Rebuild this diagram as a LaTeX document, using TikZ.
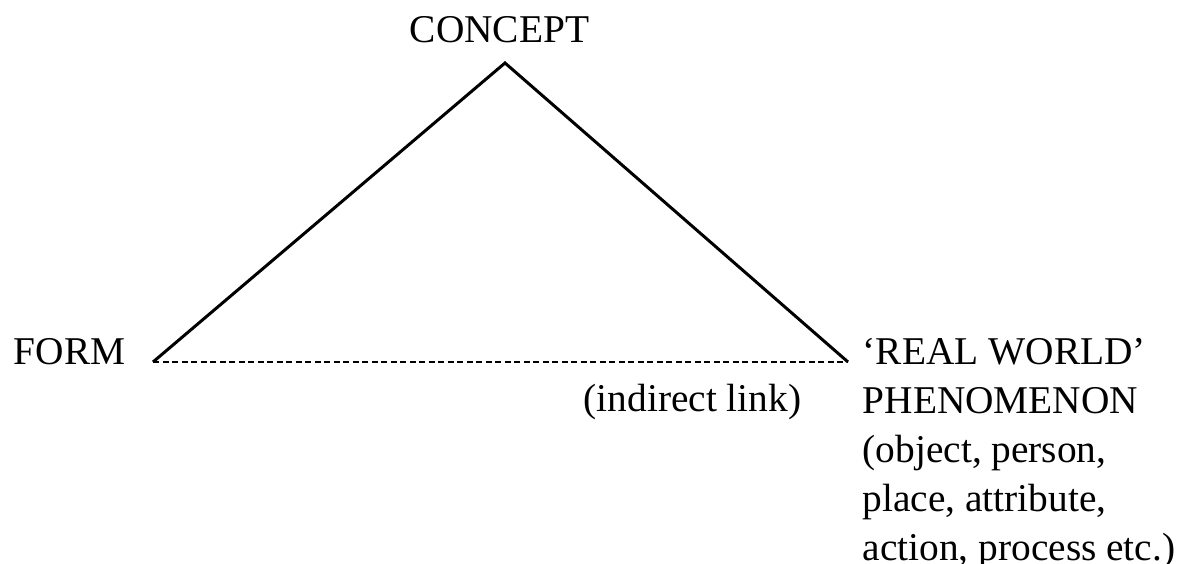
\documentclass[tikz,border=0pt]{standalone}
\usepackage{fontspec}
\setmainfont{Liberation Serif}
\usetikzlibrary{positioning}

\begin{document}
\begin{tikzpicture}[
    label/.style={
        inner sep=0pt,
        font=\fontsize{11.2}{13.9}\selectfont
    },
    side/.style={
        line width=0.85pt
    },
    indirect/.style={
        line width=0.6pt,
        dash pattern=on 0.06cm off 0.035cm
    }
]
\useasboundingbox (0,0) rectangle (11.81,5.64);

% Triangle corners
\coordinate (concept) at (5.05,5.01);
\coordinate (form) at (1.53,2.02);
\coordinate (phen) at (8.48,2.02);

% Labels
\node[label, anchor=base] (conceptlbl) at (4.995,5.21) {CONCEPT};
\node[label, anchor=base west] (formlbl) at (0.13,1.99) {FORM};
\node[label, anchor=base west] (linklbl) at (5.83,1.52) {(indirect link)};
\node[label, anchor=north west, align=left] (phenlbl) at (8.62,2.26)
    {`REAL WORLD'\\PHENOMENON\\(object, person,\\place, attribute,\\action, process etc.)};

% Sides
\draw[side] (form) -- (concept) -- (phen);
\draw[indirect] (form) -- (phen);

\end{tikzpicture}
\end{document}
